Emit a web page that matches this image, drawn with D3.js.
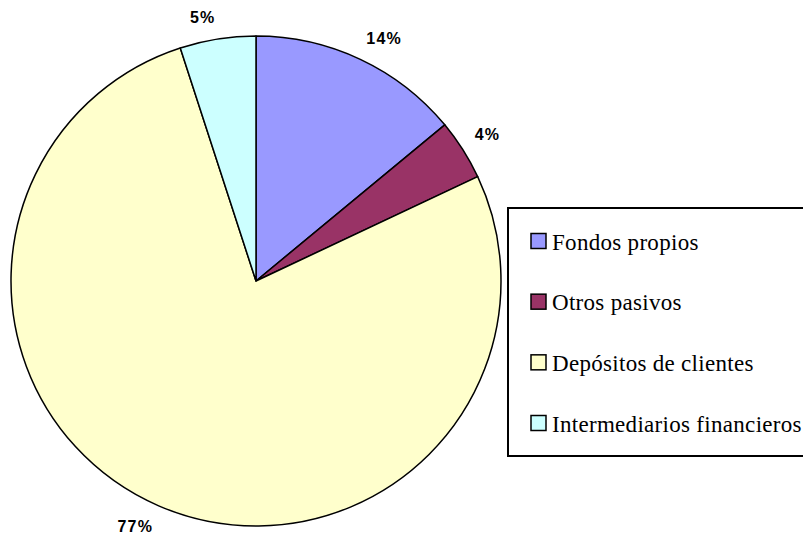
<!DOCTYPE html>
<html>
<head>
<meta charset="utf-8">
<script src="https://cdn.jsdelivr.net/npm/d3@7/dist/d3.min.js"></script>
<style>
  html, body { margin: 0; padding: 0; background: #fff; }
  svg { display: block; }
</style>
</head>
<body>
<svg id="chart" width="803" height="534"></svg>
<script>
const categories = ["Fondos propios", "Otros pasivos", "Depósitos de clientes", "Intermediarios financieros"];
const values = [14, 4, 77, 5];
const labels = ["14%", "4%", "77%", "5%"];
const colors = ["#9999FF", "#993366", "#FFFFCC", "#CCFFFF"];

const svg = d3.select("#chart");
const cx = 256, cy = 281, R = 245, labelR = 259;

const pie = d3.pie().sort(null).value(d => d)(values);
const arc = d3.arc().innerRadius(0).outerRadius(R);
const labelArc = d3.arc().innerRadius(labelR).outerRadius(labelR);

const g = svg.append("g").attr("transform", `translate(${cx},${cy})`);
g.selectAll("path").data(pie).join("path")
  .attr("d", arc)
  .attr("fill", (d, i) => colors[i])
  .attr("stroke", "#000")
  .attr("stroke-width", 1.5)
  .attr("stroke-linejoin", "round");

const lbl = g.selectAll("text.lbl").data(pie).join("text")
  .attr("class", "lbl")
  .attr("text-anchor", "middle")
  .attr("dominant-baseline", "central")
  .attr("font-family", "Liberation Sans, Arial, sans-serif")
  .attr("font-weight", "bold")
  .attr("font-size", 16)
  .attr("letter-spacing", 1.2)
  .attr("fill", "#000")
  .text((d, i) => labels[i]);
lbl.each(function(d) {
  const bb = this.getBBox();
  const a = (d.startAngle + d.endAngle) / 2;
  const [x, y] = labelArc.centroid(d);
  const dx = Math.sign(Math.sin(a)) * bb.width / 2;
  const dy = -Math.sign(Math.cos(a)) * 8;
  d3.select(this).attr("transform", `translate(${x + dx},${y + dy})`);
});

// Legend
const lx = 508, ly = 208, lw = 300, lh = 248;
svg.append("rect")
  .attr("x", lx).attr("y", ly).attr("width", lw).attr("height", lh)
  .attr("fill", "#fff").attr("stroke", "#000").attr("stroke-width", 2);

const itemY = d3.scalePoint().domain(categories).range([241, 423]);
const leg = svg.selectAll("g.leg").data(categories).join("g")
  .attr("class", "leg")
  .attr("transform", d => `translate(0,${itemY(d)})`);
leg.append("rect")
  .attr("x", 531).attr("y", -7.5).attr("width", 15).attr("height", 15)
  .attr("fill", (d, i) => colors[i]).attr("stroke", "#000").attr("stroke-width", 1.5);
leg.append("text")
  .attr("x", 552).attr("y", 1)
  .attr("dominant-baseline", "central")
  .attr("font-family", "Liberation Serif, Times New Roman, serif")
  .attr("font-size", 23)
  .attr("letter-spacing", 0.3)
  .attr("fill", "#000")
  .text(d => d);
</script>
</body>
</html>
